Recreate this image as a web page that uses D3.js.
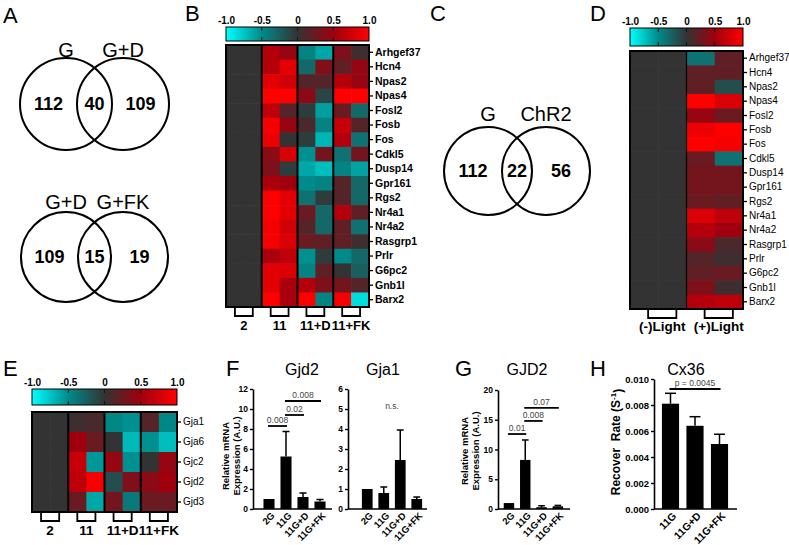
<!DOCTYPE html>
<html><head><meta charset="utf-8">
<script src="https://cdn.jsdelivr.net/npm/d3@7"></script>
<style>
body{margin:0;background:#fff;}
svg{display:block;font-family:"Liberation Sans",Arial,sans-serif;}
</style></head><body>
<svg id="fig" width="789" height="545"></svg>
<script>
// ================= DATA =================
const vennA1Sets = ["G", "G+D"];
const vennA1Counts = [112, 40, 109];
const vennA2Sets = ["G+D", "G+FK"];
const vennA2Counts = [109, 15, 19];
const vennCSets = ["G", "ChR2"];
const vennCCounts = [112, 22, 56];

const colorTicks = [-1.0, -0.5, 0, 0.5, 1.0];
const colorTickLabels = ["-1.0", "-0.5", "0", "0.5", "1.0"];

const bGenes = ["Arhgef37","Hcn4","Npas2","Npas4","Fosl2","Fosb","Fos","Cdkl5","Dusp14",
  "Gpr161","Rgs2","Nr4a1","Nr4a2","Rasgrp1","Prlr","G6pc2","Gnb1l","Barx2"];
const bGroups = ["2", "11", "11+D", "11+FK"];
const bValues = [
  [0,0, 0.60,0.45, -0.45,-0.62, 0.35,0.05],
  [0,0, 0.60,0.85, -0.30,0.35, 0.20,0.45],
  [0,0, 0.85,0.75, 0.15,0.15, 0.60,0.45],
  [0,0, 1.00,1.00, 0.40,-0.10, 1.00,1.00],
  [0,0, 0.65,0.15, -0.05,-0.58, 0.25,-0.30],
  [0,0, 0.95,0.45, 0.10,-0.45, 0.70,0.15],
  [0,0, 0.90,0.00, -0.05,-0.68, 0.60,-0.35],
  [0,0, 0.40,0.80, -0.52,0.30, -0.35,0.30],
  [0,0, 0.35,-0.05, -0.62,-0.72, -0.45,-0.60],
  [0,0, 0.55,0.50, -0.50,-0.45, 0.15,-0.30],
  [0,0, 1.00,0.85, -0.35,-0.05, 0.15,-0.30],
  [0,0, 1.00,0.85, 0.25,-0.30, 0.60,0.20],
  [0,0, 0.95,0.75, 0.15,-0.30, 0.20,-0.35],
  [0,0, 0.95,0.80, 0.25,0.20, 0.20,0.05],
  [0,0, 0.55,0.65, -0.52,-0.05, -0.50,-0.30],
  [0,0, 0.85,0.80, -0.45,0.20, 0.00,-0.25],
  [0,0, 0.85,0.55, 0.60,0.35, 0.30,0.15],
  [0,0, 1.00,0.55, 1.00,-0.45, 0.95,-0.85]
];

const dGenes = bGenes;
const dGroups = ["(-)Light", "(+)Light"];
const dValues = [
  [0,0, -0.35,0.20],
  [0,0, 0.20,0.20],
  [0,0, 0.20,-0.15],
  [0,0, 1.00,0.80],
  [0,0, 0.45,0.25],
  [0,0, 0.90,1.00],
  [0,0, 1.00,0.95],
  [0,0, 0.25,-0.35],
  [0,0, 0.30,0.30],
  [0,0, 0.30,0.30],
  [0,0, 0.25,0.20],
  [0,0, 0.80,0.65],
  [0,0, 0.60,0.50],
  [0,0, 0.40,0.10],
  [0,0, 0.15,0.05],
  [0,0, 0.20,0.25],
  [0,0, 0.35,0.05],
  [0,0, 0.60,0.65]
];

const eGenes = ["Gja1","Gja6","Gjc2","Gjd2","Gjd3"];
const eGroups = ["2", "11", "11+D", "11+FK"];
const eValues = [
  [0,0, 0.05,0.10, -0.48,-0.52, 0.15,-0.48],
  [0,0, 0.50,0.25, 0.00,-0.70, -0.52,-0.72],
  [0,0, 0.70,-0.55, 0.45,-0.52, 0.00,0.45],
  [0,0, 0.65,0.95, -0.15,0.35, 0.40,0.50],
  [0,0, 0.25,-0.62, 0.30,-0.40, 0.25,0.25]
];

const qpcrCats = ["2G", "11G", "11G+D", "11G+FK"];
const gjd2Mean = [1.0, 5.25, 1.2, 0.75];
const gjd2ErrTop = [1.0, 7.75, 1.6, 0.95];
const gjd2Sig = [
  {from: "2G", to: "11G", level: 8.3, label: "0.008"},
  {from: "11G", to: "11G+D", level: 9.4, label: "0.02"},
  {from: "11G", to: "11G+FK", level: 10.8, label: "0.008"}
];
const gjd2Ticks = [0, 2, 4, 6, 8, 10, 12];

const gja1Mean = [1.0, 0.8, 2.45, 0.5];
const gja1ErrTop = [1.0, 1.1, 3.95, 0.6];
const gja1Ticks = [0, 1, 2, 3, 4, 5, 6];

const humanMean = [1.0, 8.25, 0.3, 0.45];
const humanErrTop = [1.0, 11.6, 0.55, 0.6];
const humanSig = [
  {from: "2G", to: "11G", level: 12.6, label: "0.01"},
  {from: "11G", to: "11G+D", level: 14.8, label: "0.008"},
  {from: "11G", to: "11G+FK", level: 17.0, label: "0.07"}
];
const humanTicks = [0, 5, 10, 15, 20];

const frapCats = ["11G", "11G+D", "11G+FK"];
const frapMean = [0.0081, 0.0064, 0.0050];
const frapErrTop = [0.0089, 0.0071, 0.00575];
const frapSig = [{from: "11G", to: "11G+FK", level: 0.00923, label: "p = 0.0045"}];
const frapTicks = [0, 0.002, 0.004, 0.006, 0.008, 0.010];

// ================= DRAWING =================
const svg = d3.select("#fig");
svg.append("rect").attr("width", 789).attr("height", 545).attr("fill", "#fff");
const defs = svg.append("defs");
const FONT = "Liberation Sans, Arial, sans-serif";

const color = d3.scaleLinear()
  .domain([-1, -0.5, 0, 0.5, 1])
  .range(["#00ffff", "#008b8b", "#333333", "#a0000e", "#ff0000"])
  .clamp(true);

function panelLetter(t, x, y) {
  svg.append("text").attr("x", x).attr("y", y).attr("font-size", 22).attr("fill", "#000").text(t);
}

function venn(sets, counts, cxL, cxR, cy, r, labelY, fs) {
  const g = svg.append("g");
  const circ = [{cx: cxL}, {cx: cxR}];
  g.selectAll("circle").data(circ).join("circle")
    .attr("cx", d => d.cx).attr("cy", cy).attr("r", r)
    .attr("fill", "none").attr("stroke", "#000").attr("stroke-width", 2);
  g.selectAll("text.lab").data(sets).join("text").attr("class", "lab")
    .attr("x", (d, i) => circ[i].cx).attr("y", labelY)
    .attr("text-anchor", "middle").attr("font-size", fs).text(d => d);
  const lensL = cxR - r, lensR = cxL + r;
  const xs = [(cxL - r + lensL) / 2, (lensL + lensR) / 2, (lensR + cxR + r) / 2];
  g.selectAll("text.num").data(counts).join("text").attr("class", "num")
    .attr("x", (d, i) => xs[i]).attr("y", cy).attr("dy", "0.36em")
    .attr("text-anchor", "middle").attr("font-size", 18).attr("font-weight", "bold").text(d => d);
}

function colorbar(id, x0, x1, y0, y1) {
  const grad = defs.append("linearGradient").attr("id", id).attr("x1", "0%").attr("x2", "100%");
  grad.selectAll("stop").data(d3.range(0, 1.0001, 0.05)).join("stop")
    .attr("offset", d => (d * 100) + "%").attr("stop-color", d => color(-1 + 2 * d));
  const g = svg.append("g");
  g.append("rect").attr("x", x0).attr("y", y0).attr("width", x1 - x0).attr("height", y1 - y0)
    .attr("fill", `url(#${id})`).attr("stroke", "#000").attr("stroke-width", 1);
  const cx = d3.scaleLinear().domain([-1, 1]).range([x0, x1]);
  const ax = g.append("g").attr("transform", `translate(0,${y0})`)
    .call(d3.axisTop(cx).tickValues(colorTicks).tickFormat((d, i) => colorTickLabels[i]).tickSize(0).tickPadding(3));
  ax.select(".domain").remove();
  ax.selectAll("text").attr("font-size", 10).attr("font-weight", "bold").attr("fill", "#000")
    .style("font-family", FONT);
  g.selectAll("line.in").data([-0.5, 0, 0.5]).join("line").attr("class", "in")
    .attr("x1", d => cx(d)).attr("x2", d => cx(d)).attr("y1", y0).attr("y2", y0 + 4)
    .attr("stroke", "#111").attr("stroke-width", 1);
  g.selectAll("line.in2").data([-0.5, 0, 0.5]).join("line").attr("class", "in2")
    .attr("x1", d => cx(d)).attr("x2", d => cx(d)).attr("y1", y1 - 4).attr("y2", y1)
    .attr("stroke", "#111").attr("stroke-width", 1);
}

function heatmap(cfg) {
  const {x0, x1, y0, y1, genes, values, groups, ncol, labelSize, labelWeight, groupSize, groupDy} = cfg;
  const g = svg.append("g");
  const xs = d3.scaleBand().domain(d3.range(ncol)).range([x0, x1]);
  const ys = d3.scaleBand().domain(genes).range([y0, y1]);
  const cells = values.flatMap((row, i) => row.map((v, j) => ({gene: genes[i], col: j, v})));
  g.selectAll("rect.cell").data(cells).join("rect").attr("class", "cell")
    .attr("x", d => xs(d.col)).attr("y", d => ys(d.gene))
    .attr("width", xs.bandwidth() + 0.6).attr("height", ys.bandwidth() + 0.6)
    .attr("fill", d => color(d.v));
  const perGroup = ncol / groups.length;
  g.selectAll("line.sep").data(d3.range(1, groups.length)).join("line").attr("class", "sep")
    .attr("x1", d => xs(d * perGroup)).attr("x2", d => xs(d * perGroup))
    .attr("y1", y0).attr("y2", y1).attr("stroke", "#000").attr("stroke-width", cfg.sepWidth);
  g.append("rect").attr("x", x0).attr("y", y0).attr("width", x1 - x0).attr("height", y1 - y0)
    .attr("fill", "none").attr("stroke", "#000").attr("stroke-width", 2);
  const ax = g.append("g").attr("transform", `translate(${x1},0)`)
    .call(d3.axisRight(ys).tickSize(4).tickPadding(2));
  ax.select(".domain").remove();
  ax.selectAll("line").attr("stroke", "#000").attr("stroke-width", 1.3);
  ax.selectAll("text").attr("font-size", labelSize).attr("font-weight", labelWeight).attr("fill", "#000")
    .style("font-family", FONT);
  const bw = xs.bandwidth();
  const br = groups.map((name, gi) => {
    const a = xs(gi * perGroup) + bw / 2 + (cfg.brShift || 0);
    const b = xs(gi * perGroup + perGroup - 1) + bw / 2 + (cfg.brShift || 0);
    return {name, a, b};
  });
  g.selectAll("path.br").data(br).join("path").attr("class", "br")
    .attr("d", d => `M${d.a},${y1}V${y1 + 9}H${d.b}V${y1}`)
    .attr("fill", "none").attr("stroke", "#000").attr("stroke-width", 1.8);
  g.selectAll("text.grp").data(br).join("text").attr("class", "grp")
    .attr("x", d => (d.a + d.b) / 2).attr("y", y1 + groupDy)
    .attr("text-anchor", "middle").attr("font-size", groupSize).attr("font-weight", "bold").text(d => d.name);
}

function barChart(cfg) {
  const {axisX, axisEnd, bottom, top, yMax, ticks, fmt, cats, means, errTop, bandA, bandB, pin, sigs, sigSize} = cfg;
  const g = svg.append("g");
  const y = d3.scaleLinear().domain([0, yMax]).range([bottom, top]);
  const x = d3.scaleBand().domain(cats).range([bandA, bandB]).paddingInner(pin).paddingOuter(pin / 2);
  const bw = x.bandwidth();
  g.selectAll("rect.bar").data(cats).join("rect").attr("class", "bar")
    .attr("x", d => x(d)).attr("width", bw)
    .attr("y", (d, i) => y(means[i])).attr("height", (d, i) => bottom - y(means[i]))
    .attr("fill", "#000");
  const errs = cats.map((c, i) => ({c, m: means[i], t: errTop[i]})).filter(d => d.t > d.m + 1e-9);
  g.selectAll("line.err").data(errs).join("line").attr("class", "err")
    .attr("x1", d => x(d.c) + bw / 2).attr("x2", d => x(d.c) + bw / 2)
    .attr("y1", d => y(d.m)).attr("y2", d => y(d.t)).attr("stroke", "#000").attr("stroke-width", 1.5);
  g.selectAll("line.cap").data(errs).join("line").attr("class", "cap")
    .attr("x1", d => x(d.c) + bw * 0.18).attr("x2", d => x(d.c) + bw * 0.82)
    .attr("y1", d => y(d.t)).attr("y2", d => y(d.t)).attr("stroke", "#000").attr("stroke-width", 1.5);
  const ya = g.append("g").attr("transform", `translate(${axisX},0)`)
    .call(d3.axisLeft(y).tickValues(ticks).tickFormat(fmt).tickSize(3).tickSizeOuter(0).tickPadding(2));
  ya.select(".domain").attr("stroke-width", 1.6);
  ya.selectAll(".tick line").attr("stroke-width", 1.4);
  ya.selectAll("text").attr("font-size", cfg.tickSize || 8.5).attr("font-weight", "bold").attr("fill", "#000")
    .style("font-family", FONT);
  g.append("line").attr("x1", axisX).attr("x2", axisEnd).attr("y1", bottom).attr("y2", bottom)
    .attr("stroke", "#000").attr("stroke-width", 1.6);
  const xa = g.append("g").attr("transform", `translate(0,${bottom})`)
    .call(d3.axisBottom(x).tickSize(0));
  xa.select(".domain").remove();
  xa.selectAll("text").attr("y", 0).attr("dy", "0.35em").attr("text-anchor", "end")
    .attr("transform", "translate(4,5) rotate(-45)")
    .attr("font-size", cfg.xLabelSize || 9.5).attr("font-weight", "bold").attr("fill", "#000")
    .style("font-family", FONT);
  (sigs || []).forEach(s => {
    const xa1 = x(s.from) + bw / 2 - 1, xb1 = x(s.to) + bw / 2 + 1;
    g.append("line").attr("x1", xa1).attr("x2", xb1).attr("y1", y(s.level)).attr("y2", y(s.level))
      .attr("stroke", "#000").attr("stroke-width", 1.8);
    g.append("text").attr("x", (xa1 + xb1) / 2).attr("y", y(s.level) - 3).attr("text-anchor", "middle")
      .attr("font-size", sigSize || 8.5).attr("fill", "#444").text(s.label);
  });
  g.append("text").attr("x", cfg.titleX).attr("y", cfg.titleY).attr("text-anchor", "middle")
    .attr("font-size", 16).text(cfg.title);
  if (cfg.yTitle) {
    cfg.yTitle.forEach((line, i) => {
      g.append("text").attr("transform", `translate(${cfg.yTitleX[i]},${cfg.yTitleY}) rotate(-90)`)
        .attr("text-anchor", "middle").attr("dy", "0.35em").attr("font-size", cfg.yTitleSize || 9.5)
        .attr("font-weight", "bold").text(line);
    });
  }
  if (cfg.ns) {
    g.append("text").attr("x", d3.mean(cats, c => x(c) + bw / 2)).attr("y", y(cfg.ns.level))
      .attr("text-anchor", "middle").attr("font-size", 8.5).attr("fill", "#444").text(cfg.ns.label);
  }
  return g;
}

// ---------- Panel A ----------
panelLetter("A", 3, 23);
venn(vennA1Sets, vennA1Counts, 66, 123, 104, 46, 57, 20);
venn(vennA2Sets, vennA2Counts, 66, 123, 257, 45, 209, 20);

// ---------- Panel B ----------
panelLetter("B", 185, 21);
colorbar("cbB", 226, 369, 27, 41);
heatmap({x0: 226, x1: 369, y0: 45, y1: 307, genes: bGenes, values: bValues, groups: bGroups, ncol: 8,
  labelSize: 10.5, labelWeight: "bold", groupSize: 13, groupDy: 23, sepWidth: 2});

// ---------- Panel C ----------
panelLetter("C", 430, 21);
venn(vennCSets, vennCCounts, 488, 546, 171, 44, 121, 20);

// ---------- Panel D ----------
panelLetter("D", 590, 21);
colorbar("cbD", 630, 743, 28, 46);
heatmap({x0: 630, x1: 743, y0: 51, y1: 309, genes: dGenes, values: dValues, groups: dGroups, ncol: 4,
  labelSize: 10, labelWeight: "normal", groupSize: 13.5, groupDy: 22, sepWidth: 1.2, brShift: 4});

// ---------- Panel E ----------
panelLetter("E", 3, 376);
colorbar("cbE", 32, 177, 389, 405);
heatmap({x0: 32, x1: 177, y0: 412, y1: 512, genes: eGenes, values: eValues, groups: eGroups, ncol: 8,
  labelSize: 10, labelWeight: "normal", groupSize: 13.5, groupDy: 23, sepWidth: 2});

// ---------- Panel F ----------
panelLetter("F", 226, 376);
barChart({axisX: 253, axisEnd: 332, bottom: 509, top: 389, yMax: 12, ticks: gjd2Ticks, fmt: d3.format("d"),
  cats: qpcrCats, means: gjd2Mean, errTop: gjd2ErrTop, bandA: 260.5, bandB: 328.5, pin: 0.35,
  sigs: gjd2Sig, title: "Gjd2", titleX: 302, titleY: 375,
  yTitle: ["Relative mRNA", "Expression (A.U.)"], yTitleX: [226, 237], yTitleY: 456});
barChart({axisX: 348, axisEnd: 427, bottom: 509, top: 389, yMax: 6, ticks: gja1Ticks, fmt: d3.format("d"),
  cats: qpcrCats, means: gja1Mean, errTop: gja1ErrTop, bandA: 359, bandB: 425, pin: 0.35,
  sigs: [], title: "Gja1", titleX: 383, titleY: 375, ns: {level: 5.0, label: "n.s."}});

// ---------- Panel G ----------
panelLetter("G", 455, 376);
barChart({axisX: 498, axisEnd: 570, bottom: 509, top: 390, yMax: 20, ticks: humanTicks, fmt: d3.format("d"),
  cats: qpcrCats, means: humanMean, errTop: humanErrTop, bandA: 500.8, bandB: 566, pin: 0.36,
  sigs: humanSig, title: "GJD2", titleX: 527, titleY: 375,
  yTitle: ["Relative mRNA", "Expression (A.U.)"], yTitleX: [465, 476], yTitleY: 451});

// ---------- Panel H ----------
panelLetter("H", 590, 376);
const hg = barChart({axisX: 654, axisEnd: 737, bottom: 509, top: 379, yMax: 0.010, ticks: frapTicks, fmt: d3.format(".3f"),
  cats: frapCats, means: frapMean, errTop: frapErrTop, bandA: 658.25, bandB: 731.75, pin: 0.3,
  sigs: frapSig, sigSize: 8.5, title: "Cx36", titleX: 686, titleY: 375, xLabelSize: 10.5, tickSize: 9.5});
const ht = hg.append("text").attr("transform", "translate(616,442) rotate(-90)")
  .attr("text-anchor", "middle").attr("dy", "0.35em").attr("font-size", 12).attr("font-weight", "bold")
  .style("white-space", "pre");
ht.append("tspan").text("Recover  Rate (S");
ht.append("tspan").attr("font-size", 8).attr("dy", "-0.5em").text("-1");
ht.append("tspan").attr("dy", "0.5em").text(")");
</script>
</body></html>
